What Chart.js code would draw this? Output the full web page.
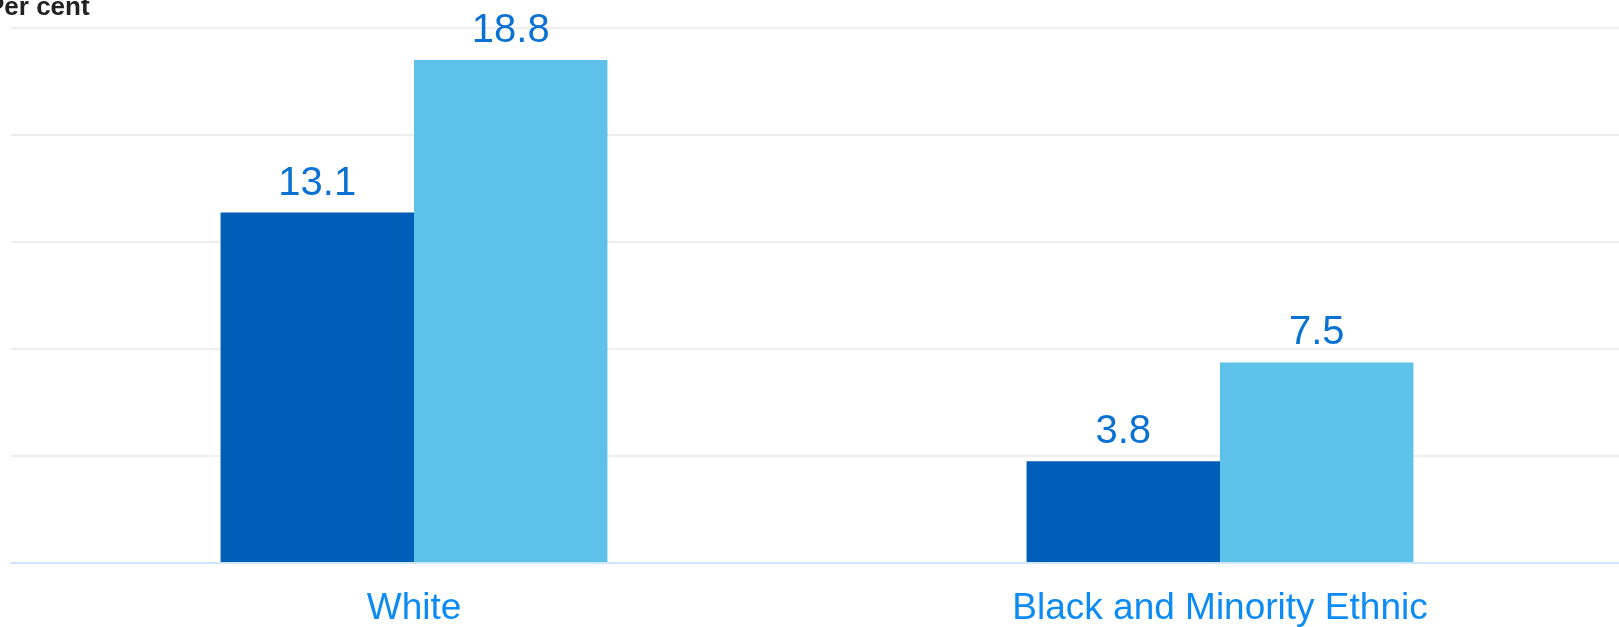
<!DOCTYPE html>
<html>
<head>
<meta charset="utf-8">
<script src="https://cdn.jsdelivr.net/npm/chart.js@4"></script>
<style>
  html, body { margin: 0; padding: 0; background: #fff; overflow: hidden; }
  #wrap { width: 1619px; height: 627px; overflow: hidden; }
</style>
</head>
<body>
<!-- canvas is a few px wider than the window: the plot runs off the right edge like the original -->
<div id="wrap"><canvas id="ethnicChart" width="1623" height="627"></canvas></div>
<script>
// === DATA === //
const categories = ['White', 'Black and Minority Ethnic'];
const seriesA = [13.1, 3.8];
const seriesB = [18.8, 7.5];
const yTicks = [0, 4, 8, 12, 16, 20];

const FONT = '"Liberation Sans", Arial, Helvetica, sans-serif';

// value labels above each bar
const barValues = {
  id: 'barValues',
  afterDatasetsDraw(chart) {
    const ctx = chart.ctx;
    ctx.save();
    ctx.font = '40px ' + FONT;
    ctx.fillStyle = '#0b72d4';
    ctx.textAlign = 'center';
    ctx.textBaseline = 'alphabetic';
    chart.data.datasets.forEach((ds, i) => {
      chart.getDatasetMeta(i).data.forEach((bar, j) => {
        ctx.fillText(ds.data[j].toFixed(1), bar.x, bar.y - 18);
      });
    });
    ctx.restore();
  }
};

// "Per cent" unit label, top left (partly off canvas like the original)
const unitLabel = {
  id: 'unitLabel',
  afterDraw(chart) {
    const ctx = chart.ctx;
    ctx.save();
    ctx.font = 'bold 26px ' + FONT;
    ctx.fillStyle = '#222222';
    ctx.textAlign = 'left';
    ctx.textBaseline = 'alphabetic';
    ctx.fillText('Per cent', -13, 15);
    ctx.restore();
  }
};

new Chart(document.getElementById('ethnicChart'), {
  type: 'bar',
  data: {
    labels: categories,
    datasets: [
      {
        label: 'Series A',
        data: seriesA,
        backgroundColor: '#005eb8',
        categoryPercentage: 0.48,
        barPercentage: 1.0
      },
      {
        label: 'Series B',
        data: seriesB,
        backgroundColor: '#5ec1e9',
        categoryPercentage: 0.48,
        barPercentage: 1.0
      }
    ]
  },
  options: {
    responsive: false,
    animation: false,
    devicePixelRatio: 1,
    layout: { padding: { top: 28, left: 11, right: 0, bottom: 0 } },
    plugins: {
      legend: { display: false },
      tooltip: { enabled: false },
      title: { display: false }
    },
    scales: {
      x: {
        grid: { display: false },
        border: { display: true, color: '#cfe6fb', width: 2 },
        ticks: {
          color: '#0d8bf5',
          font: { family: FONT, size: 37 },
          padding: 16
        },
        afterFit: axis => { axis.height = 64; }
      },
      y: {
        min: yTicks[0],
        max: yTicks[yTicks.length - 1],
        afterBuildTicks: axis => {
          axis.ticks = yTicks.map(v => ({ value: v }));
        },
        grid: { color: '#eeeeee', lineWidth: 2, drawTicks: false },
        border: { display: false },
        ticks: { display: false }
      }
    }
  },
  plugins: [barValues, unitLabel]
});
</script>
</body>
</html>
